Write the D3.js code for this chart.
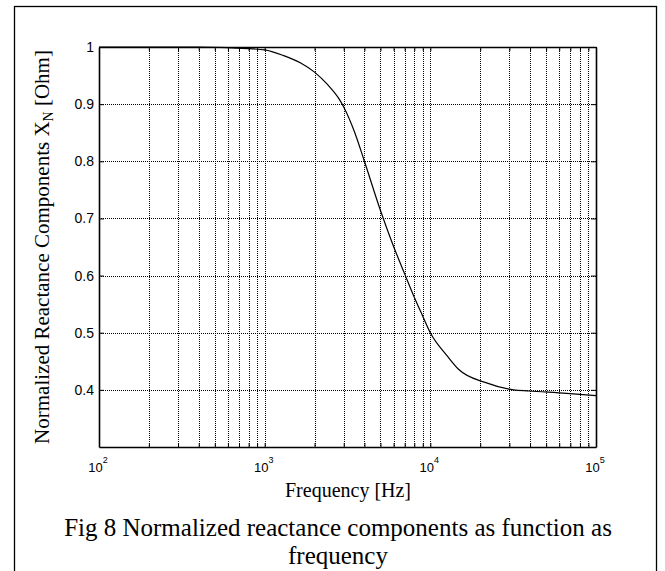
<!DOCTYPE html>
<html>
<head>
<meta charset="utf-8">
<script src="https://cdn.jsdelivr.net/npm/d3@7"></script>
<style>
  body { margin: 0; background: #fff; }
  svg { display: block; }
</style>
</head>
<body>
<svg width="665" height="571"></svg>
<script>
// curve
var freq = [100, 200, 400, 600, 800, 1000, 1300, 1650, 2000, 2400, 2800, 3000, 3500, 4000,
  5000, 6000, 7000, 8000, 9000, 10000, 12600, 14800, 21400, 31800, 39300, 66500, 100000];
var xn = [1.0, 1.0, 1.0, 0.999, 0.997, 0.995, 0.985, 0.972, 0.956, 0.934, 0.91, 0.895, 0.85, 0.80,
  0.714, 0.651, 0.603, 0.562, 0.529, 0.5, 0.46, 0.436, 0.413, 0.40, 0.398, 0.394, 0.39];

var yTicks = [0.4, 0.5, 0.6, 0.7, 0.8, 0.9, 1];
var decades = [2, 3, 4, 5];

var svg = d3.select("svg");
var pLeft = 99, pRight = 596, pTop = 47, pBottom = 447;
var sans = "'Liberation Sans', Arial, sans-serif";
var serif = "'Liberation Serif', 'Times New Roman', serif";

var x = d3.scaleLog().domain([100, 100000]).range([pLeft, pRight]);
var y = d3.scaleLinear().domain([0.3, 1]).range([pBottom, pTop]);

// outer frame
svg.append("rect")
  .attr("x", 14.5).attr("y", 6.5)
  .attr("width", 642).attr("height", 580)
  .attr("fill", "none").attr("stroke", "#000").attr("stroke-width", 1.3);

// every x tick 100..100000
var xAll = [];
for (var e = 2; e < 5; e++) {
  for (var m = 1; m < 10; m++) xAll.push(m * Math.pow(10, e));
}
xAll.push(100000);

// grid
var grid = svg.append("g")
  .attr("stroke", "#000")
  .attr("stroke-width", 1)
  .attr("stroke-dasharray", "1,1");

grid.selectAll("line.vx")
  .data(xAll.slice(1, -1))
  .enter()
  .append("line")
  .attr("x1", function(d) { return Math.round(x(d)) + 0.5; })
  .attr("x2", function(d) { return Math.round(x(d)) + 0.5; })
  .attr("y1", pTop).attr("y2", pBottom);

grid.selectAll("line.hy")
  .data(yTicks.slice(0, -1))
  .enter()
  .append("line")
  .attr("y1", function(d) { return Math.round(y(d)) + 0.5; })
  .attr("y2", function(d) { return Math.round(y(d)) + 0.5; })
  .attr("x1", pLeft).attr("x2", pRight);

// axes with inward ticks
var xAxisB = d3.axisBottom(x).tickValues(xAll).tickSizeInner(-4).tickSizeOuter(0).tickFormat("");
var xAxisT = d3.axisTop(x).tickValues(xAll).tickSizeInner(-4).tickSizeOuter(0).tickFormat("");
var yAxisL = d3.axisLeft(y).tickValues(yTicks).tickSizeInner(-5).tickSizeOuter(0).tickFormat("");
var yAxisR = d3.axisRight(y).tickValues(yTicks).tickSizeInner(-5).tickSizeOuter(0).tickFormat("");

svg.append("g").attr("transform", "translate(0," + pBottom + ")").call(xAxisB);
svg.append("g").attr("transform", "translate(0," + pTop + ")").call(xAxisT);
svg.append("g").attr("transform", "translate(" + pLeft + ",0)").call(yAxisL);
svg.append("g").attr("transform", "translate(" + pRight + ",0)").call(yAxisR);
svg.selectAll(".domain").attr("stroke-width", 1.6);

// curve
var line = d3.line()
  .x(function(d, i) { return x(freq[i]); })
  .y(function(d) { return y(d); })
  .curve(d3.curveMonotoneX);

svg.append("path")
  .datum(xn)
  .attr("d", line)
  .attr("fill", "none")
  .attr("stroke", "#000")
  .attr("stroke-width", 1.2);

// y tick labels
svg.selectAll("text.yl")
  .data(yTicks)
  .enter()
  .append("text")
  .attr("x", pLeft - 5)
  .attr("y", function(d) { return y(d) + 5; })
  .attr("text-anchor", "end")
  .style("font-family", sans)
  .style("font-size", "14px")
  .text(function(d) { return d; });

// x tick labels 10^n
var xl = svg.selectAll("text.xl")
  .data(decades)
  .enter()
  .append("text")
  .attr("x", function(d) { return x(Math.pow(10, d)) - 1; })
  .attr("y", 472)
  .attr("text-anchor", "middle")
  .style("font-family", sans)
  .style("font-size", "13px");
xl.append("tspan").text("10");
xl.append("tspan").attr("dy", -9).style("font-size", "9px").text(function(d) { return d; });

// axis titles
svg.append("text")
  .attr("x", 348).attr("y", 497)
  .attr("text-anchor", "middle")
  .style("font-family", serif)
  .style("font-size", "20px")
  .text("Frequency [Hz]");

var yt = svg.append("text")
  .attr("transform", "translate(49,247) rotate(-90)")
  .attr("text-anchor", "middle")
  .style("font-family", serif)
  .style("font-size", "21px");
yt.append("tspan").text("Normalized Reactance Components X");
yt.append("tspan").attr("dy", 4).style("font-size", "14px").text("N");
yt.append("tspan").attr("dy", -4).text(" [Ohm]");

// caption
svg.append("text")
  .attr("x", 338).attr("y", 536)
  .attr("text-anchor", "middle")
  .style("font-family", serif)
  .style("font-size", "25px")
  .text("Fig 8 Normalized reactance components as function as");
svg.append("text")
  .attr("x", 338).attr("y", 564)
  .attr("text-anchor", "middle")
  .style("font-family", serif)
  .style("font-size", "25px")
  .text("frequency");
</script>
</body>
</html>
